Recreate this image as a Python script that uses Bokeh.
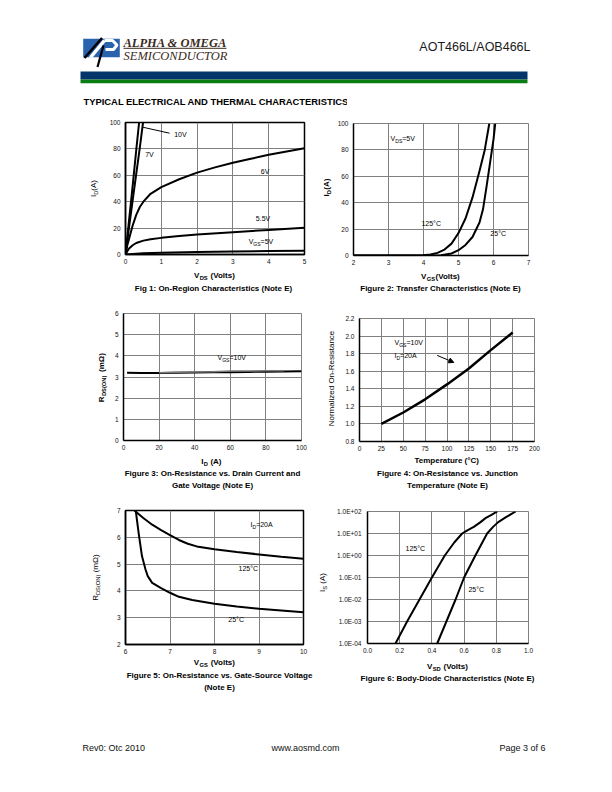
import math
from bokeh.plotting import figure
from bokeh.models import (Range1d, Label, NumeralTickFormatter, CustomJSTickFormatter,
                          Arrow, NormalHead, Spacer)
from bokeh.layouts import column, row
from bokeh.core.properties import value
from bokeh.embed import file_html
from bokeh.resources import INLINE

FONT = "Liberation Sans"
SERIF = "Liberation Serif"

# ---------------- data ----------------
# Fig 1: On-region characteristics
f1_xticks = [0, 1, 2, 3, 4, 5]
f1_yticks = [0, 20, 40, 60, 80, 100]
vds_10v = [0, 0.1, 0.2, 0.3, 0.38]
id_10v = [0, 26, 52, 79, 100]
vds_7v = [0, 0.1, 0.2, 0.3, 0.4, 0.49]
id_7v = [0, 21, 41, 61, 81, 100]
vds_6v = [0, 0.05, 0.1, 0.2, 0.3, 0.4, 0.5, 0.7, 1.0, 1.5, 2.0, 2.5, 3.0, 3.5, 4.0, 4.5, 5.0]
id_6v = [0, 7, 12, 22, 30, 36, 40, 46, 51, 57, 62, 66, 69.5, 72.5, 75.5, 78, 80.5]
vds_55v = [0, 0.05, 0.1, 0.2, 0.3, 0.5, 0.7, 1.0, 1.5, 2.0, 3.0, 4.0, 5.0]
id_55v = [0, 2.5, 4.5, 7, 8.7, 10.5, 11.6, 12.6, 14, 15.2, 16.9, 18.6, 20.2]
vds_5v = [0, 0.5, 1, 2, 3, 4, 5]
id_5v = [0, 0.9, 1.3, 1.8, 2.2, 2.6, 2.9]

# Fig 2: transfer characteristics
f2_xticks = [2, 3, 4, 5, 6, 7]
f2_yticks = [0, 20, 40, 60, 80, 100]
vgs_125c = [2.0, 3.0, 4.0, 4.2, 4.4, 4.6, 4.8, 5.0, 5.2, 5.4, 5.6, 5.75, 5.88]
id_125c = [0, 0, 0.2, 0.8, 2, 4.5, 9, 17, 28, 44, 64, 80, 100]
vgs_25c = [2.0, 3.0, 4.0, 4.5, 4.8, 5.0, 5.2, 5.4, 5.6, 5.7, 5.8, 5.9, 6.0, 6.05]
id_25c = [0, 0, 0, 0.2, 1.5, 4, 8, 14, 25, 35, 52, 70, 88, 100]

# Fig 3: on-resistance vs drain current
f3_xticks = [0, 20, 40, 60, 80, 100]
f3_yticks = [0, 1, 2, 3, 4, 5, 6]
id_f3 = [2, 10, 20, 30, 40, 50, 60, 70, 80, 90, 100]
rds_f3 = [3.2, 3.19, 3.19, 3.2, 3.21, 3.22, 3.23, 3.24, 3.25, 3.26, 3.27]
id_f3b = [20, 30, 40, 50, 60, 70, 80, 90]
rds_f3b = [3.2, 3.22, 3.24, 3.25, 3.28, 3.28, 3.29, 3.3]

# Fig 4: normalized on-resistance vs temperature
f4_xticks = [0, 25, 50, 75, 100, 125, 150, 175, 200]
f4_yticks = [0.8, 1.0, 1.2, 1.4, 1.6, 1.8, 2.0, 2.2]
temp_f4 = [25, 50, 75, 100, 125, 150, 175]
rnorm_f4 = [1.0, 1.13, 1.28, 1.45, 1.63, 1.84, 2.04]

# Fig 5: on-resistance vs gate-source voltage
f5_xticks = [6, 7, 8, 9, 10]
f5_yticks = [2, 3, 4, 5, 6, 7]
vgs5_125 = [6.2, 6.4, 6.6, 6.8, 7.0, 7.2, 7.4, 7.6, 8.0, 8.5, 9.0, 9.5, 10.0]
rds5_125 = [7.0, 6.72, 6.47, 6.27, 6.08, 5.9, 5.76, 5.66, 5.55, 5.45, 5.36, 5.27, 5.2]
vgs5_25 = [6.23, 6.3, 6.37, 6.45, 6.5, 6.6, 6.8, 7.0, 7.2, 7.5, 8.0, 8.5, 9.0, 9.5, 10.0]
rds5_25 = [7.0, 6.1, 5.3, 4.8, 4.55, 4.3, 4.1, 3.93, 3.78, 3.66, 3.52, 3.42, 3.33, 3.27, 3.2]

# Fig 6: body-diode characteristics
f6_xticks = [0.0, 0.2, 0.4, 0.6, 0.8, 1.0]
f6_yticks = [1e-4, 1e-3, 1e-2, 1e-1, 1e0, 1e1, 1e2]
vsd_125 = [0.174, 0.246, 0.323, 0.40, 0.48, 0.54, 0.588, 0.62, 0.66, 0.70, 0.733, 0.77, 0.806]
is_125 = [1e-4, 1e-3, 1e-2, 1e-1, 1, 4, 10, 14, 20, 32, 50, 70, 100]
vsd_25 = [0.433, 0.49, 0.547, 0.60, 0.67, 0.743, 0.78, 0.81, 0.86, 0.92]
is_25 = [1e-4, 1e-3, 1e-2, 1e-1, 1, 10, 20, 32, 55, 100]

# ---------------- helpers ----------------
CW = {' ': .278, '(': .333, ')': .333, '=': .584, '.': .278, ':': .278, '-': .333, '/': .278,
      '°': .4, 'Ω': .768, 'A': .667, 'B': .667, 'C': .722, 'D': .722, 'E': .667, 'F': .611,
      'G': .778, 'H': .722, 'I': .278, 'J': .5, 'K': .667, 'L': .556, 'M': .833, 'N': .722,
      'O': .778, 'P': .667, 'R': .722, 'S': .667, 'T': .611, 'U': .722, 'V': .667, 'W': .944,
      'a': .556, 'b': .556, 'c': .5, 'd': .556, 'e': .556, 'f': .278, 'g': .556, 'h': .556,
      'i': .222, 'j': .222, 'k': .5, 'l': .222, 'm': .833, 'n': .556, 'o': .556, 'p': .556,
      'r': .333, 's': .5, 't': .278, 'u': .556, 'v': .5, 'w': .722, 'x': .5, 'y': .5, 'z': .5}


def tw(s, size, bold):
    return sum(CW.get(c, .556) for c in s) * size * (1.06 if bold else 1.0)


def layout_segs(segs, size, bold, align):
    sizes = [size * 0.72 if sub else size for _, sub in segs]
    widths = [tw(t, s, bold) for (t, _), s in zip(segs, sizes)]
    total = sum(widths)
    pos = {"left": 0.0, "center": -total / 2, "right": -total}[align]
    out = []
    for (t, sub), s, w in zip(segs, sizes, widths):
        stripped = t.lstrip(" ")
        lead = tw(t[:len(t) - len(stripped)], s, bold)
        out.append((stripped, s, pos + lead, 0.3 * size if sub else 0.0))
        pos += w
    return out


def rich(p, x, y, segs, size=7.0, bold=False, align="left", bg=None):
    """In-frame label (annotation): y_offset positive = up."""
    parts = layout_segs(segs, size, bold, align)
    passes = ([True] if bg else []) + [False]
    for bgpass in passes:
        for t, s, pos, drop in parts:
            kw = dict(background_fill_color=bg, padding=2, text_alpha=0.0) if bgpass else {}
            p.add_layout(Label(x=x, y=y, x_offset=pos, y_offset=-drop, text=t,
                               text_font=FONT, text_font_size=f"{s:.2f}px",
                               text_font_style="bold" if bold else "normal",
                               text_align="left", text_baseline="middle", text_color="black", **kw))


def rich_glyph(p, x, y, segs, size=8.0, bold=False, angle=0.0, align="center"):
    """Text in a page-coordinate panel (glyph): y_offset positive = down."""
    for t, s, pos, drop in layout_segs(segs, size, bold, align):
        if angle == 0:
            xo, yo = pos, drop
        else:
            xo, yo = drop, -pos
        p.text(x=[x], y=[y], text=[t], x_offset=xo, y_offset=yo, angle=angle,
               text_font=value(FONT), text_font_size=f"{s:.2f}px",
               text_font_style="bold" if bold else "normal",
               text_align="left", text_baseline="middle", text_color="black")


def panel(x0, y0, w, h):
    p = figure(width=w, height=h, x_range=Range1d(x0, x0 + w), y_range=Range1d(y0 + h, y0),
               output_backend="svg", toolbar_location=None, tools="",
               x_axis_location=None, y_axis_location=None, min_border=0, frame_align=False)
    p.grid.visible = False
    p.outline_line_color = None
    p.background_fill_color = "white"
    p.border_fill_color = "white"
    return p


def chart(w, h, left, right, top, bottom, xr, yr, xticks, yticks, ylog=False, outline="#808080"):
    p = figure(width=w, height=h, x_range=Range1d(*xr), y_range=Range1d(*yr),
               y_axis_type="log" if ylog else "linear",
               output_backend="svg", toolbar_location=None, tools="", frame_align=False,
               min_border_left=left, min_border_right=right,
               min_border_top=top, min_border_bottom=bottom)
    p.background_fill_color = "white"
    p.border_fill_color = "white"
    p.outline_line_color = outline
    p.outline_line_width = 1.5 if outline == "black" else 1
    p.xaxis.ticker = xticks
    p.yaxis.ticker = yticks
    for ax in (p.xaxis[0], p.yaxis[0]):
        ax.axis_line_color = "black"
        ax.axis_line_width = 1.5
        ax.major_tick_in = 0
        ax.major_tick_out = 0
        ax.minor_tick_in = 0
        ax.minor_tick_out = 0
        ax.major_label_text_font = FONT
        ax.major_label_text_font_size = "6.5px"
        ax.major_label_text_color = "#111111"
    p.xaxis.major_label_standoff = 4
    p.yaxis.major_label_standoff = 5
    p.grid.grid_line_color = "#808080"
    p.grid.grid_line_width = 1
    return p


def caption(p, x, y, text):
    p.text(x=[x], y=[y], text=[text], text_font=value(FONT), text_font_size="8px",
           text_font_style="bold", text_align="center", text_baseline="middle", text_color="black")


LW = 2.0
UP = math.pi / 2

# ---------------- header ----------------
hdr = panel(0, 0, 612, 92)
hdr.quad(left=[80], right=[527], top=[71], bottom=[79], fill_color="#03346a", line_color=None)
hdr.quad(left=[80], right=[527], top=[79], bottom=[82.7], fill_color="#0a7d12", line_color=None)
hdr.quad(left=[82.7], right=[119.3], top=[38.3], bottom=[56.7], fill_color="#2a63ad", line_color=None)
hdr.line([90, 104], [57, 40], line_color="white", line_width=3.5)
hdr.line([104, 112, 116.5, 113, 105], [40, 40, 44.5, 49, 49], line_color="white", line_width=3)
hdr.line([84, 101.5], [57.5, 37.5], line_color="black", line_width=2.5)
hdr.line([97, 103], [66.5, 45], line_color="black", line_width=2.2)
hdr.text(x=[123], y=[42.5], text=["ALPHA & OMEGA"], text_font=value(SERIF), text_font_size="12.5px",
         text_font_style="bold italic", text_color="#3a2a1c", text_baseline="middle", text_align="left")
hdr.line([123, 226], [47.8, 47.8], line_color="#3a2a1c", line_width=1)
hdr.text(x=[123], y=[55], text=["SEMICONDUCTOR"], text_font=value(SERIF), text_font_size="12.5px",
         text_font_style="italic", text_color="#3a2a1c", text_baseline="middle", text_align="left")
hdr.text(x=[530], y=[46], text=["AOT466L/AOB466L"], text_font=value(FONT), text_font_size="12.5px",
         text_color="#1a1a1a", text_baseline="middle", text_align="right")

ttl = panel(0, 92, 347, 16)
ttl.text(x=[83], y=[100.5], text=["TYPICAL ELECTRICAL AND THERMAL CHARACTERISTICS"],
         text_font=value(FONT), text_font_size="9.4px", text_font_style="bold",
         text_color="black", text_baseline="middle", text_align="left")

# ---------------- Fig 1 ----------------
f1 = chart(210, 160, 18, 12, 14, 14, (0, 5), (0, 100), f1_xticks, f1_yticks, outline="black")
for xs, ys in ((vds_10v, id_10v), (vds_7v, id_7v), (vds_6v, id_6v), (vds_55v, id_55v), (vds_5v, id_5v)):
    f1.line(xs, ys, line_color="black", line_width=LW)
f1.add_layout(Arrow(end=None, x_start=0.49, y_start=96.4, x_end=1.23, y_end=91.9,
                    line_color="black", line_width=1))
rich(f1, 1.36, 90.9, [("10V", False)])
rich(f1, 0.55, 75.8, [("7V", False)])
rich(f1, 3.78, 62.9, [("6V", False)], bg="white")
rich(f1, 3.64, 27.3, [("5.5V", False)], bg="white")
rich(f1, 3.44, 9.8, [("V", False), ("GS", True), ("=5V", False)], bg="white")
c1 = panel(106, 268, 210, 37)
rich_glyph(c1, 214, 275, [("V", False), ("DS", True), (" (Volts)", False)], bold=True)
caption(c1, 213, 288, "Fig 1: On-Region Characteristics (Note E)")
y1 = panel(0, 108, 106, 197)
rich_glyph(y1, 93, 188, [("I", False), ("D", True), ("(A)", False)], angle=UP)
cell1 = row(y1, column(f1, c1))

# ---------------- Fig 2 ----------------
f2 = chart(279, 161, 20, 84, 15, 14, (2, 7), (0, 100), f2_xticks, f2_yticks)
f2.line(vgs_125c, id_125c, line_color="black", line_width=LW)
f2.line(vgs_25c, id_25c, line_color="black", line_width=LW)
rich(f2, 3.06, 88.6, [("V", False), ("DS", True), ("=5V", False)], bg="white")
rich(f2, 3.94, 24.2, [("125°C", False)], bg="white")
rich(f2, 5.91, 16.7, [("25°C", False)], bg="white")
c2 = panel(333, 269, 279, 36)
rich_glyph(c2, 440, 276, [("V", False), ("GS", True), ("(Volts)", False)], bold=True)
caption(c2, 440, 288, "Figure 2: Transfer Characteristics (Note E)")
y2 = panel(316, 108, 17, 197)
rich_glyph(y2, 326, 187, [("I", False), ("D", True), ("(A)", False)], bold=True, angle=UP)
cell2 = row(y2, column(f2, c2))

# ---------------- Fig 3 ----------------
f3 = chart(208, 149, 15, 15, 8, 14, (0, 100), (0, 6), f3_xticks, f3_yticks)
f3.line(id_f3, rds_f3, line_color="black", line_width=LW)
f3.line(id_f3b, rds_f3b, line_color="#7a7a7a", line_width=1.5)
rich(f3, 52.8, 3.92, [("V", False), ("GS", True), ("=10V", False)], bg="white")
c3 = panel(108, 454, 208, 43)
rich_glyph(c3, 211, 461, [("I", False), ("D", True), (" (A)", False)], bold=True)
caption(c3, 212, 473, "Figure 3: On-Resistance vs. Drain Current and")
caption(c3, 212, 485, "Gate Voltage (Note E)")
y3 = panel(0, 305, 108, 192)
rich_glyph(y3, 101, 377, [("R", False), ("DS(ON)", True), (" (mΩ)", False)], bold=True, angle=UP)
cell3 = row(y3, column(f3, c3))

# ---------------- Fig 4 ----------------
f4 = chart(274, 150, 21, 78, 13, 14, (0, 200), (0.8, 2.2), f4_xticks, f4_yticks)
f4.yaxis.formatter = NumeralTickFormatter(format="0.0")
f4.line(temp_f4, rnorm_f4, line_color="black", line_width=2.5)
rich(f4, 40, 1.926, [("V", False), ("GS", True), ("=10V", False)], bg="white")
rich(f4, 40, 1.78, [("I", False), ("D", True), ("=20A", False)], bg="white")
f4.add_layout(Arrow(end=NormalHead(size=5, fill_color="black", line_color="black"),
                    x_start=88.8, y_start=1.78, x_end=107.8, y_end=1.70,
                    line_color="black", line_width=1))
c4 = panel(338, 455, 274, 42)
rich_glyph(c4, 447, 460, [("Temperature (°C)", False)], bold=True)
caption(c4, 447, 473, "Figure 4: On-Resistance vs. Junction")
caption(c4, 447, 485, "Temperature (Note E)")
y4 = panel(316, 305, 22, 192)
rich_glyph(y4, 331, 378, [("Normalized On-Resistance", False)], angle=UP)
cell4 = row(y4, column(f4, c4))

# ---------------- Fig 5 ----------------
f5 = chart(209, 159, 18, 13, 13, 12, (6, 10), (2, 7), f5_xticks, f5_yticks, outline="black")
f5.line(vgs5_125, rds5_125, line_color="black", line_width=LW)
f5.line(vgs5_25, rds5_25, line_color="black", line_width=LW)
rich(f5, 8.81, 6.48, [("I", False), ("D", True), ("=20A", False)])
rich(f5, 8.54, 4.84, [("125°C", False)], bg="white")
rich(f5, 8.31, 2.93, [("25°C", False)], bg="white")
c5 = panel(107, 656, 209, 44)
rich_glyph(c5, 214, 662, [("V", False), ("GS", True), (" (Volts)", False)], bold=True)
caption(c5, 219, 675, "Figure 5: On-Resistance vs. Gate-Source Voltage")
caption(c5, 219, 686.5, "(Note E)")
y5 = panel(0, 497, 107, 203)
rich_glyph(y5, 95, 577, [("R", False), ("DS(ON)", True), (" (mΩ)", False)], angle=UP)
cell5 = row(y5, column(f5, c5))

# ---------------- Fig 6 ----------------
f6 = chart(283, 158, 38, 84, 14, 12, (0, 1), (1e-4, 1e2), f6_xticks, f6_yticks, ylog=True)
f6.xaxis.formatter = NumeralTickFormatter(format="0.0")
f6.yaxis.formatter = CustomJSTickFormatter(code="""
const parts = tick.toExponential(1).split('e');
const sign = parts[1][0];
let d = parts[1].slice(1);
if (d.length < 2) { d = '0' + d; }
return parts[0] + 'E' + sign + d;
""")
f6.yaxis.major_label_standoff = 6
f6.line(vsd_125, is_125, line_color="black", line_width=LW)
f6.line(vsd_25, is_25, line_color="black", line_width=LW)
rich(f6, 0.236, 2.08, [("125°C", False)])
rich(f6, 0.627, 0.0285, [("25°C", False)])
c6 = panel(329, 655, 283, 45)
rich_glyph(c6, 447, 666, [("V", False), ("SD", True), (" (Volts)", False)], bold=True)
caption(c6, 447, 678, "Figure 6: Body-Diode Characteristics (Note E)")
y6 = panel(316, 497, 13, 203)
rich_glyph(y6, 322, 582, [("I", False), ("S", True), (" (A)", False)], angle=UP)
cell6 = row(y6, column(f6, c6))

# ---------------- footer ----------------
ftr = panel(0, 700, 612, 92)
ftr.text(x=[82], y=[747], text=["Rev0: Otc 2010"], text_font=value(FONT), text_font_size="9px",
         text_color="#111111", text_baseline="middle", text_align="left")
ftr.text(x=[305], y=[747], text=["www.aosmd.com"], text_font=value(FONT), text_font_size="9px",
         text_color="#111111", text_baseline="middle", text_align="center")
ftr.text(x=[545], y=[747], text=["Page 3 of 6"], text_font=value(FONT), text_font_size="9px",
         text_color="#111111", text_baseline="middle", text_align="right")

page = column(hdr, row(ttl, Spacer(width=265, height=16)), row(cell1, cell2),
              row(cell3, cell4), row(cell5, cell6), ftr)

open("out.html", "w").write(file_html(page, INLINE))
